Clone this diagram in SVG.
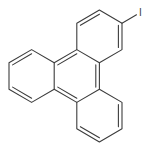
<svg xmlns="http://www.w3.org/2000/svg" width="150" height="150" viewBox="0 0 150 150">
<style>
.b{fill:none;stroke:#3c3c3c;stroke-width:1.1;stroke-linecap:round;stroke-linejoin:round}
.lbl{font-family:"Liberation Sans",Arial,sans-serif;font-size:10px;fill:#3c3c3c;text-anchor:middle}
</style>
<rect width="150" height="150" fill="#fff"/>
<g id="bonds" class="b">
<path d="M31.6,49.6 L54.2,62.8 L54.2,89.2 L31.6,102.4 L9,89.2 L9,62.8 Z"/>
<path d="M54.2,62.8 L76.8,49.6 L99.4,62.8 L99.4,89.2 L76.8,102.4 L54.2,89.2"/>
<path d="M76.8,49.6 L76.8,23.2 L99.4,10 L122,23.2 L122,49.6 L99.4,62.8"/>
<path d="M99.4,89.2 L122,102.4 L122,128.8 L99.4,142 L76.8,128.8 L76.8,102.4"/>
<path d="M122,23.2 L136.5,14.8"/>
<path d="M31.6,53.8 L12.6,64.9 M31.6,98.2 L12.6,87.1"/>
<path d="M57.8,64.9 L76.8,53.8 M76.8,98.2 L57.8,87.1 M95.8,64.9 L95.8,87.1"/>
<path d="M80.4,25.3 L99.4,14.2 M118.4,25.3 L118.4,47.5"/>
<path d="M118.4,104.5 L118.4,126.7 M99.4,137.8 L80.4,126.7"/>
</g>
<g id="atom-I">
<text class="lbl" x="140.5" y="16">I</text>
</g>
</svg>
